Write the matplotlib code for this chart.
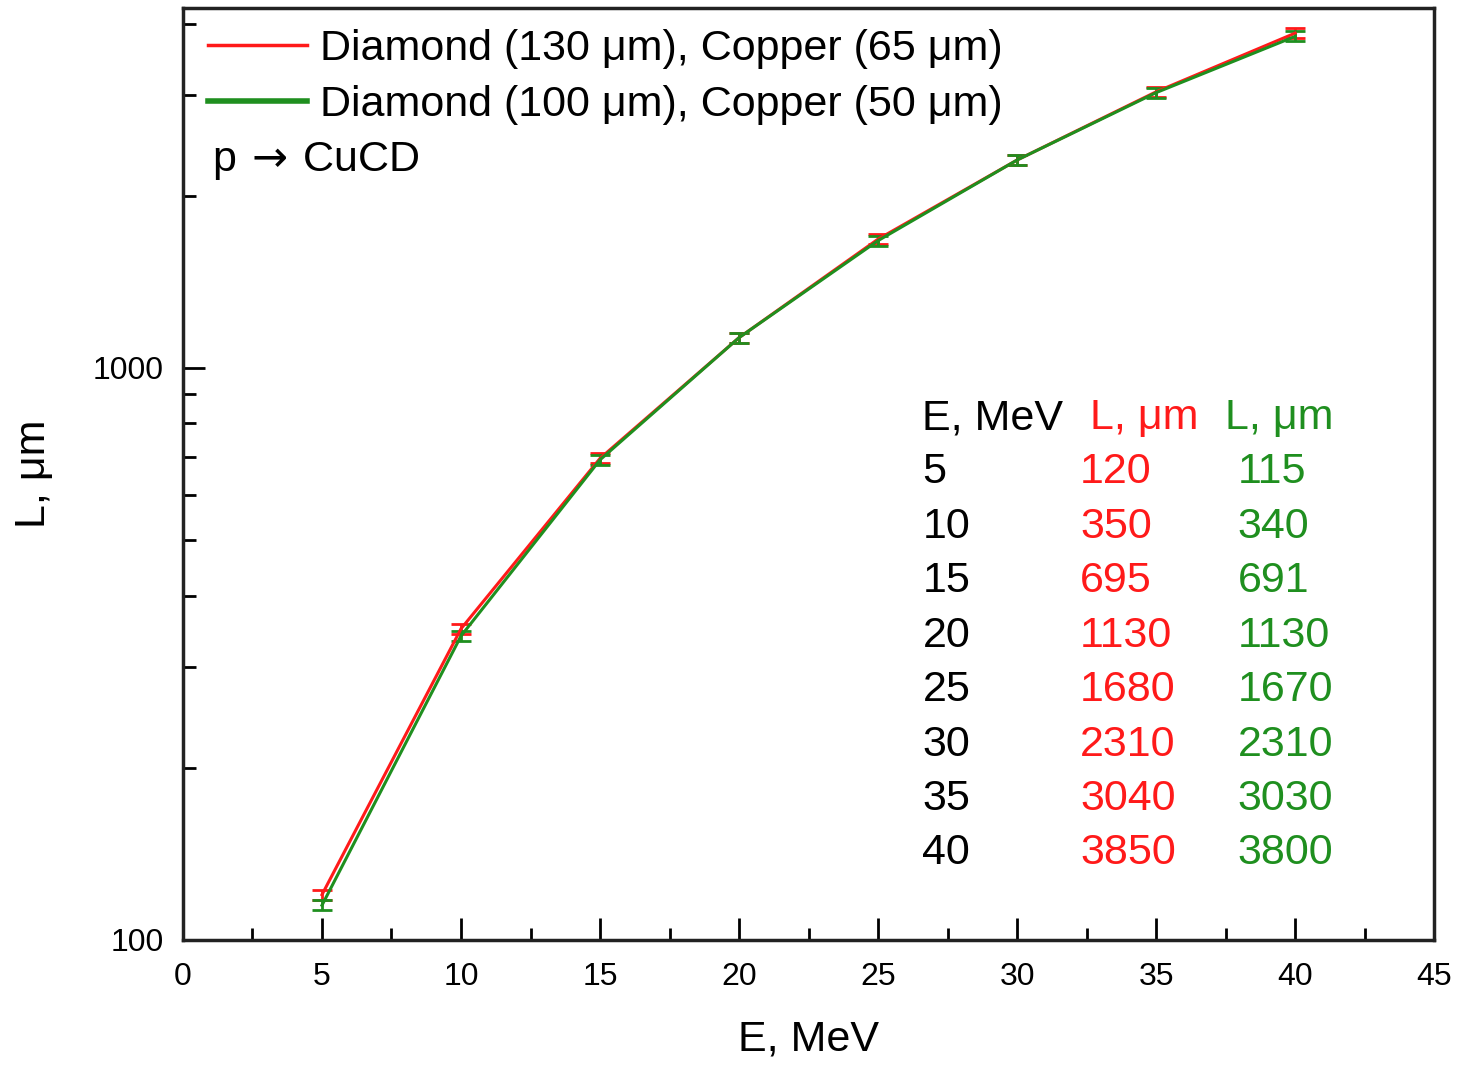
import matplotlib.pyplot as plt
from matplotlib.lines import Line2D
from matplotlib.ticker import FixedLocator, NullFormatter, MultipleLocator

plt.rcParams['font.family'] = ['Liberation Sans', 'DejaVu Sans']

# data
energy = [5, 10, 15, 20, 25, 30, 35, 40]
L_red = [120, 350, 695, 1130, 1680, 2310, 3040, 3850]     # Diamond 130 um, Copper 65 um
L_green = [115, 340, 691, 1130, 1670, 2310, 3030, 3800]   # Diamond 100 um, Copper 50 um
rel_err = 0.02
label_red = "Diamond (130 \u03bcm), Copper (65 \u03bcm)"
label_green = "Diamond (100 \u03bcm), Copper (50 \u03bcm)"

red = '#ff1a1a'
green = '#1f8f1f'
big = 31

fig = plt.figure(figsize=(14.59, 10.65), dpi=100)
ax = fig.add_axes([0.1254, 0.1174, 0.8576, 0.8751])

ax.errorbar(energy, L_red, yerr=[v * rel_err for v in L_red], color=red, lw=2.2,
            capsize=7, capthick=2, elinewidth=2)
ax.errorbar(energy, L_green, yerr=[v * rel_err for v in L_green], color=green, lw=2.2,
            capsize=7, capthick=2, elinewidth=2)

ax.set_yscale('log')
ax.set_xlim(0, 45)
ax.set_ylim(100, 4260)
ax.xaxis.set_major_locator(MultipleLocator(5))
ax.xaxis.set_minor_locator(MultipleLocator(2.5))
ax.yaxis.set_major_locator(FixedLocator([100, 1000]))
ax.yaxis.set_minor_locator(FixedLocator([m * d for d in (100, 1000) for m in range(2, 10)]))
ax.yaxis.set_minor_formatter(NullFormatter())
ax.set_yticklabels(['100', '1000'])

ax.tick_params(which='both', direction='in', top=False, right=False, width=2, labelsize=23)
ax.tick_params(axis='y', pad=14)
ax.tick_params(axis='x', pad=16)
ax.tick_params(which='major', length=16)
ax.tick_params(which='minor', length=9)
for s in ax.spines.values():
    s.set_linewidth(2.5)
    s.set_color('#222222')

ax.set_xlabel("E, MeV", fontsize=big, labelpad=20)
ax.set_ylabel("L, \u03bcm", fontsize=big, labelpad=28)

handles = [Line2D([], [], color=red, lw=2.5), Line2D([], [], color=green, lw=4)]
ax.legend(handles, [label_red, label_green], loc='upper left', bbox_to_anchor=(0.02, 0.977),
          fontsize=big, frameon=False, handlelength=2.3, borderaxespad=0, borderpad=0,
          labelspacing=0.36, handletextpad=0.3)
ax.text(0.023, 0.836, "p$\\,\\rightarrow\\,$CuCD", transform=ax.transAxes, fontsize=big, va='center')

# table of values
rows_y = [0.502, 0.443, 0.385, 0.326, 0.268, 0.209, 0.151, 0.093]
x_e, x_r, x_g = 0.591, 0.717, 0.843
ax.text(x_e, 0.56, "E, MeV", transform=ax.transAxes, fontsize=big, va='center')
ax.text(0.725, 0.56, "L, \u03bcm", transform=ax.transAxes, fontsize=big, va='center', color=red)
ax.text(0.833, 0.56, "L, \u03bcm", transform=ax.transAxes, fontsize=big, va='center', color=green)
for e, r, g, yy in zip(energy, L_red, L_green, rows_y):
    ax.text(x_e, yy, str(e), transform=ax.transAxes, fontsize=big, va='center')
    ax.text(x_r, yy, str(r), transform=ax.transAxes, fontsize=big, va='center', color=red)
    ax.text(x_g, yy, str(g), transform=ax.transAxes, fontsize=big, va='center', color=green)

fig.savefig("out.png", dpi=100)
